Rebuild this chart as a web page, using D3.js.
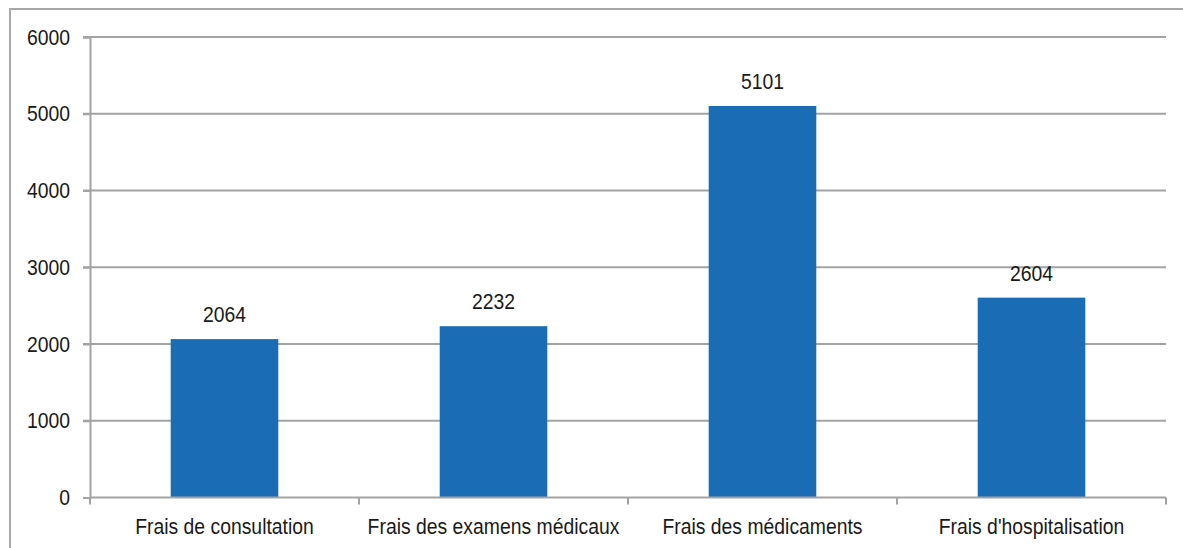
<!DOCTYPE html>
<html>
<head>
<meta charset="utf-8">
<script src="https://cdn.jsdelivr.net/npm/d3@7"></script>
<style>
	body { margin: 0; background: #fff; }
	text { font-family: "Liberation Sans", Arial, sans-serif; fill: #1a1a1a; }
</style>
</head>
<body>
<script>
// Chart data
let categories = ["Frais de consultation", "Frais des examens médicaux", "Frais des médicaments", "Frais d'hospitalisation"];
let values = [2064, 2232, 5101, 2604];
let yTicks = [0, 1000, 2000, 3000, 4000, 5000, 6000];

// Layout
let width = 1183, height = 548;
let plotLeft = 90, plotRight = 1166, plotTop = 37, plotBottom = 497.5;
let gridColor = "#a3a3a3";
let fontSize = 22, squeeze = "scale(0.88,1)";

let svg = d3.select("body")
			.append("svg")
			.attr("width", width)
			.attr("height", height);

// Outer frame
svg.append("rect")
   .attr("x", 10).attr("y", 9)
   .attr("width", width + 20).attr("height", height + 20)
   .attr("fill", "none")
   .attr("stroke", "#a8a8a8")
   .attr("stroke-width", 2);

let x = d3.scaleBand()
		  .domain(categories)
		  .range([plotLeft, plotRight])
		  .paddingInner(0.6)
		  .paddingOuter(0.3);

let y = d3.scaleLinear()
		  .domain([0, 6000])
		  .range([plotBottom, plotTop]);

// Gridlines
svg.selectAll("line.grid")
   .data(yTicks.filter(d => d > 0))
   .enter()
   .append("line")
   .attr("class", "grid")
   .attr("x1", plotLeft - 7)
   .attr("x2", plotRight)
   .attr("y1", d => y(d))
   .attr("y2", d => y(d))
   .attr("stroke", gridColor)
   .attr("stroke-width", 2);

// Y axis
let yAxis = svg.append("g")
			   .attr("transform", `translate(${plotLeft},0)`)
			   .call(d3.axisLeft(y).tickValues(yTicks).tickSize(7).tickPadding(13).tickFormat(d3.format("d")));
yAxis.select(".domain").attr("stroke", gridColor).attr("stroke-width", 2);
yAxis.selectAll(".tick line").attr("stroke", gridColor).attr("stroke-width", 2);
yAxis.selectAll(".tick text")
	 .attr("font-size", fontSize)
	 .attr("transform-origin", "-20 0")
	 .attr("transform", squeeze)
	 .style("fill", "#1a1a1a");

// Bars
svg.selectAll("rect.bar")
   .data(values)
   .enter()
   .append("rect")
   .attr("class", "bar")
   .attr("x", (d, i) => x(categories[i]))
   .attr("y", d => y(d))
   .attr("width", x.bandwidth())
   .attr("height", d => y(0) - y(d))
   .attr("fill", "#1a6db5");

// X axis with boundary ticks
let step = x.step();
let xAxis = svg.append("g");
xAxis.append("line")
	 .attr("x1", plotLeft).attr("x2", plotRight)
	 .attr("y1", plotBottom).attr("y2", plotBottom)
	 .attr("stroke", gridColor).attr("stroke-width", 2);
xAxis.selectAll("line.xtick")
	 .data(d3.range(categories.length + 1))
	 .enter()
	 .append("line")
	 .attr("class", "xtick")
	 .attr("x1", i => plotLeft + i * step)
	 .attr("x2", i => plotLeft + i * step)
	 .attr("y1", plotBottom)
	 .attr("y2", plotBottom + 7)
	 .attr("stroke", gridColor).attr("stroke-width", 2);

// Category labels
svg.selectAll("text.cat")
   .data(categories)
   .enter()
   .append("text")
   .attr("class", "cat")
   .attr("x", d => x(d) + x.bandwidth() / 2)
   .attr("y", 534)
   .attr("text-anchor", "middle")
   .attr("font-size", fontSize)
   .attr("transform-origin", d => `${x(d) + x.bandwidth() / 2} 534`)
   .attr("transform", squeeze)
   .text(d => d);

// Value labels
svg.selectAll("text.val")
   .data(values)
   .enter()
   .append("text")
   .attr("class", "val")
   .attr("x", (d, i) => x(categories[i]) + x.bandwidth() / 2)
   .attr("y", d => y(d) - 17)
   .attr("text-anchor", "middle")
   .attr("font-size", fontSize)
   .attr("transform-origin", (d, i) => `${x(categories[i]) + x.bandwidth() / 2} ${y(d) - 17}`)
   .attr("transform", squeeze)
   .text(d => d);
</script>
</body>
</html>
